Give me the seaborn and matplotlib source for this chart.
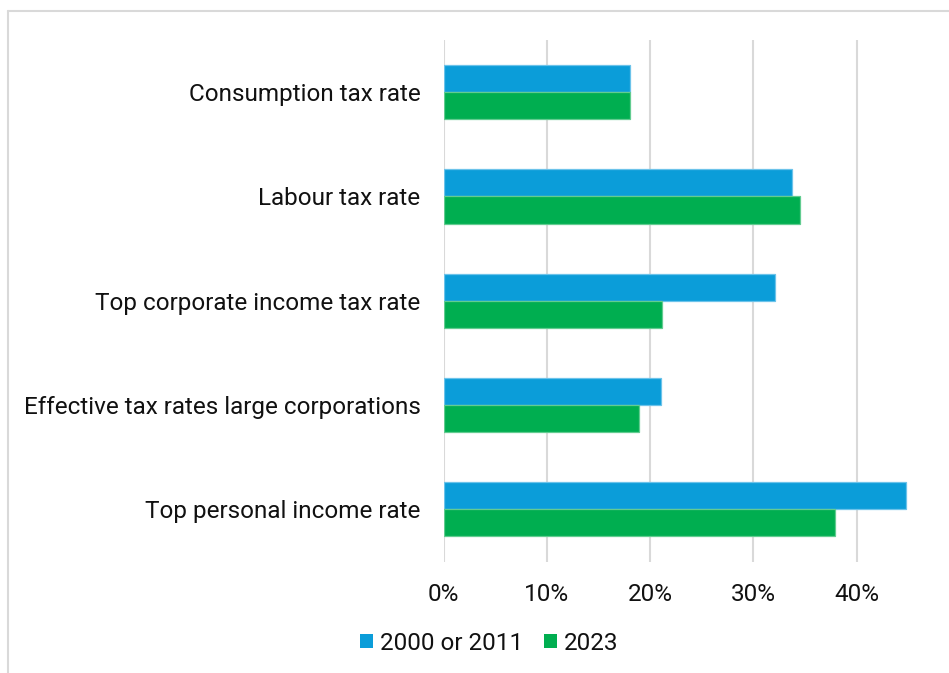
import matplotlib
matplotlib.use("Agg")
import matplotlib.pyplot as plt
import seaborn as sns
import pandas as pd
from matplotlib.lines import Line2D
from matplotlib.patches import Patch
from matplotlib.ticker import PercentFormatter

categories = [
    "Consumption tax rate",
    "Labour tax rate",
    "Top corporate income tax rate",
    "Effective tax rates large corporations",
    "Top personal income rate",
]
series_names = ["2000 or 2011", "2023"]
values_early = [0.181, 0.337, 0.321, 0.211, 0.448]
values_2023 = [0.181, 0.345, 0.212, 0.189, 0.379]
x_ticks = [0.0, 0.1, 0.2, 0.3, 0.4]

colors = {"2000 or 2011": "#0B9DD9", "2023": "#00AE50"}
edges = {"2000 or 2011": "#6CC3EA", "2023": "#62CC90"}

df = pd.DataFrame({
    "category": categories * 2,
    "series": [series_names[0]] * len(categories) + [series_names[1]] * len(categories),
    "value": values_early + values_2023,
})

sns.set_theme(style="white")
plt.rcParams["font.family"] = ["Roboto", "DejaVu Sans"]

W, H = 949, 673
fig = plt.figure(figsize=(W / 100, H / 100), dpi=100)
ax = fig.add_axes([0, 0, 1, 1])

sns.barplot(data=df, y="category", x="value", hue="series", order=categories,
            hue_order=series_names, palette=colors, orient="h", width=0.52,
            saturation=1, ax=ax, legend=False)

for i, cont in enumerate(ax.containers):
    name = series_names[i]
    for bar in cont:
        bar.set_edgecolor(edges[name])
        bar.set_linewidth(0.9)

xmax = 0.485
px_per_unit = 1033.0
left_px = 443.5
top_px, bottom_px = 39.9, 561.5
ax.set_position([left_px / W, 1 - bottom_px / H, xmax * px_per_unit / W, (bottom_px - top_px) / H])
ax.set_xlim(0, xmax)
ax.set_ylim(len(categories) - 0.5, -0.5)
ax.set_xticks(x_ticks)
ax.xaxis.set_major_formatter(PercentFormatter(1.0, decimals=0))
ax.set_xlabel("")
ax.set_ylabel("")
for s in ax.spines.values():
    s.set_visible(False)
ax.grid(axis="x", color="#D9D9D9", linewidth=1.5)
ax.grid(axis="y", visible=False)
ax.set_axisbelow(True)
ax.tick_params(axis="y", length=0, pad=16.5, labelsize=17.5, labelcolor="#111111")
ax.tick_params(axis="x", length=0, pad=15.5, labelsize=17.5, labelcolor="#111111")

handles = [Patch(facecolor=colors[n], edgecolor="none") for n in series_names]
fig.legend(handles, series_names, loc="center", bbox_to_anchor=(489.5 / W, 1 - 643 / H),
           ncol=2, frameon=False, fontsize=17.5, handlelength=0.52, handleheight=0.52,
           handletextpad=0.3, columnspacing=0.85, labelcolor="#111111")

fig.add_artist(Line2D([7.5 / W, 7.5 / W], [0, 1 - 11 / H], transform=fig.transFigure,
                      color="#D9D9D9", linewidth=1.5))
fig.add_artist(Line2D([7.5 / W, 1], [1 - 11 / H, 1 - 11 / H], transform=fig.transFigure,
                      color="#D9D9D9", linewidth=1.5))

fig.savefig("out.png", dpi=100)
